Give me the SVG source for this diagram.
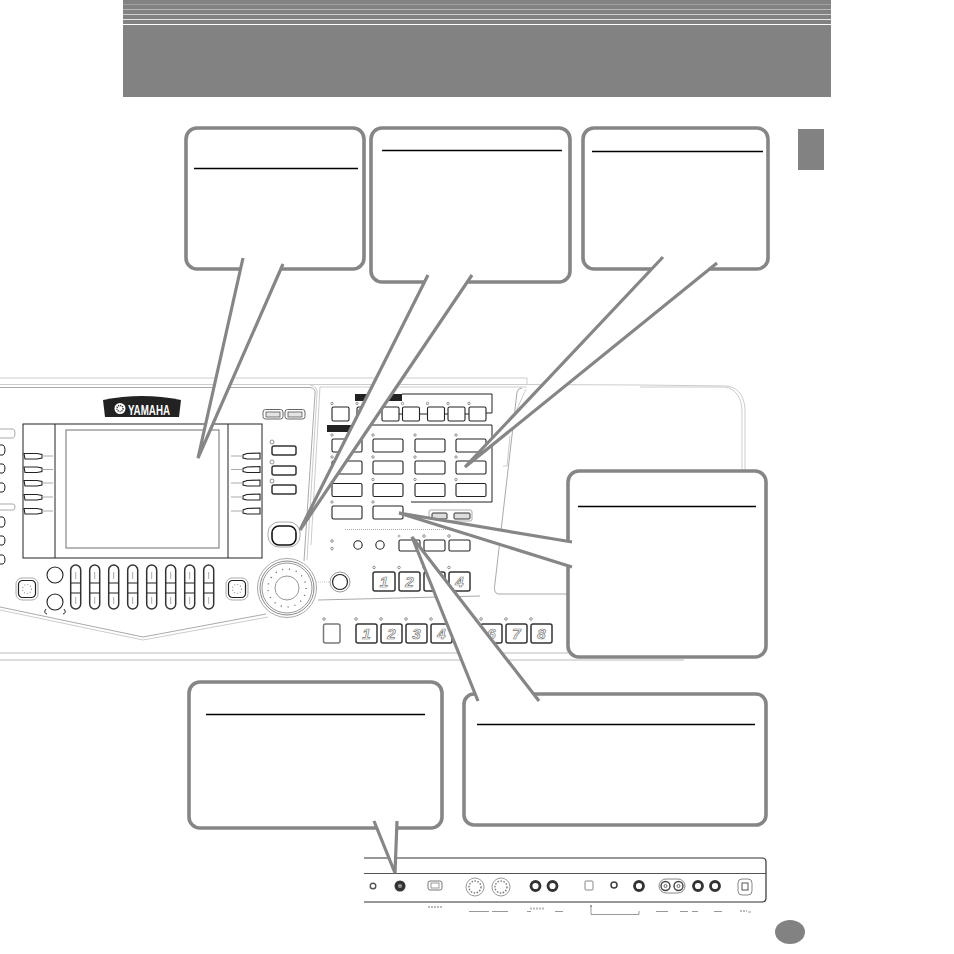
<svg xmlns="http://www.w3.org/2000/svg" xmlns:xlink="http://www.w3.org/1999/xlink" width="954" height="954" viewBox="0 0 954 954">
<style>
.bx{fill:#fff;stroke:#868686;stroke-width:3.600}
.w{fill:#fff;stroke:none}
.wl{fill:none;stroke:#868686;stroke-width:3.200;stroke-linejoin:miter}
.rule{stroke:#000;stroke-width:1.400}
.k{fill:#fff;stroke:#222;stroke-width:1.100}
.kd{fill:#fff;stroke:#333;stroke-width:1.500}
.n{fill:none;stroke:#222;stroke-width:1}
.g{fill:none;stroke:#aaa;stroke-width:1}
.lg{fill:none;stroke:#ccc;stroke-width:1}
.band{fill:none;stroke:#ddd;stroke-width:2}
.led{fill:#fff;stroke:#777;stroke-width:.8}
.num{font-family:"Liberation Sans",Arial,sans-serif;font-style:italic;font-weight:bold;font-size:15px;fill:#fff;stroke:#777;stroke-width:.7;text-anchor:middle}
.jack{fill:#fff;stroke:#333;stroke-width:2.800}
.tick{fill:none;stroke:#999;stroke-width:1}
</style>
<defs>
<g id="sl"><rect x="-5" y="565" width="10" height="44" rx="5" class="kd"/><path class="n" d="M-5 583H5M-5 593H5"/><path class="g" d="M0 572V579M0 597V604"/></g>
<g id="bl"><path class="k" d="M0 -2.500H13L18 -1.500V2L13 3H1Z"/><path class="g" d="M18 0H29"/></g>
<g id="br"><path class="k" d="M29 -3L16 -2.500L12 -1V2L16 3H29Z"/><path class="g" d="M0 0H12"/></g>
<g id="wide"><circle cx="0" cy="-4" r="1.200" class="led"/><rect x="0" y="0" width="30" height="13" rx="1.500" class="k"/></g>
<g id="sm"><circle cx="0" cy="-3.500" r="1.200" class="led"/><rect x="0" y="0" width="17" height="14" rx="1.500" class="k"/></g>
<g id="pad"><rect x="-11" y="-11" width="22" height="22" rx="6" fill="#fff" stroke="#aaa"/><rect x="-8.500" y="-8.500" width="17" height="17" rx="4" fill="#fff" stroke="#222" stroke-width="1.200"/><circle r="4.500" fill="none" stroke="#999" stroke-width="1.200" stroke-dasharray="1 2"/></g>
</defs>

<g id="header">
<rect x="123" y="0" width="708" height="97" fill="#828282"/>
<path d="M123 4.500H831" stroke="#a0a0a0" stroke-width="1"/>
<path d="M123 9.500H831" stroke="#b5b5b5" stroke-width="1"/>
<path d="M123 14.500H831" stroke="#cdcdcd" stroke-width="1"/>
<path d="M123 19.500H831" stroke="#e4e4e4" stroke-width="1"/>
<path d="M123 24.500H831" stroke="#fff" stroke-width="1.200"/>
</g>
<rect id="tab" x="798" y="129" width="26" height="41" fill="#828282"/>
<ellipse id="page-dot" cx="790" cy="932" rx="15" ry="12" fill="#828282"/>

<g id="panel">
<path class="lg" d="M0 378H527V384M0 384.500H527L640 385L727 386C740 388 745 398 745 412V470" stroke-width="1.400"/>
<path class="lg" d="M640 387H725C736 389 742 398 742 412V470"/>
<path class="g" d="M0 387.500H310Q316 388 315 394L304 561"/>
<path class="lg" d="M310 385Q318 386 317 394L307 560"/>
<path class="lg" d="M320 387L311 545M320 387H527"/>
<path class="g" d="M522 388Q518 388 517 392L495 583Q493 593 498 594H568"/>
<path class="lg" d="M526 389L505 436M503 466H507L510 436"/>
<path class="g" d="M318 600L480 596"/>
<path class="g" d="M0 607L143 637L266 614"/>
<path class="lg" d="M0 610L143 640L268 617"/>
<path class="band" d="M0 653H568"/>
<path class="band" d="M0 660H684"/>

<g id="logo">
<path d="M103 400Q142 392 181 400L179 417H105Z" fill="#222"/>
<circle cx="120" cy="408.500" r="5.500" fill="#fff"/><circle cx="120" cy="408.500" r="3" fill="none" stroke="#222" stroke-width="1.500" stroke-dasharray="1 1"/>
<text x="128" y="414.500" font-family="Liberation Sans,Arial,sans-serif" font-weight="bold" font-size="15" fill="#fff" textLength="42" lengthAdjust="spacingAndGlyphs">YAMAHA</text>
</g>

<rect x="23" y="424" width="239" height="134" fill="#fff" stroke="#222" stroke-width="1"/>
<path class="n" d="M55 424V558M228 424V558"/>
<rect x="66" y="430" width="153" height="118" fill="#fff" stroke="#888" stroke-width="1.200"/>
<use xlink:href="#bl" x="24" y="456"/><use xlink:href="#bl" x="24" y="469.500"/><use xlink:href="#bl" x="24" y="483"/><use xlink:href="#bl" x="24" y="497"/><use xlink:href="#bl" x="24" y="511"/>
<use xlink:href="#br" x="231" y="456"/><use xlink:href="#br" x="231" y="469.500"/><use xlink:href="#br" x="231" y="483"/><use xlink:href="#br" x="231" y="497"/><use xlink:href="#br" x="231" y="511"/>

<path class="g" d="M0 429H13Q15 429 15 433Q15 438 13 438H0M0 504H13Q15 504 15 507Q15 510 13 510H0"/>
<path class="n" d="M0 445H3Q5 446 5 450Q5 454 3 455H0M0 464H3Q5 465 5 468Q5 472 3 473H0M0 483H3Q5 484 5 487Q5 491 3 492H0M0 517H3Q5 518 5 522Q5 526 3 527H0M0 536H3Q5 537 5 540Q5 544 3 545H0M0 555H3Q5 556 5 560Q5 563 3 564H0"/>

<use xlink:href="#sl" x="75.700"/><use xlink:href="#sl" x="94.700"/><use xlink:href="#sl" x="113.700"/><use xlink:href="#sl" x="132.700"/><use xlink:href="#sl" x="151.700"/><use xlink:href="#sl" x="170.700"/><use xlink:href="#sl" x="189.700"/><use xlink:href="#sl" x="208.700"/>
<circle cx="55" cy="575" r="8" class="k"/><circle cx="55" cy="602" r="8" class="k"/>
<path class="n" d="M46 609Q43 613 47 614M64 609Q67 613 63 614"/>
<use xlink:href="#pad" x="27" y="589"/><use xlink:href="#pad" x="237" y="589"/>

<rect x="263" y="409.500" width="20" height="9.500" rx="2.500" fill="#fff" stroke="#666"/><rect x="285" y="409.500" width="20" height="9.500" rx="2.500" fill="#fff" stroke="#666"/>
<rect x="266" y="412" width="14" height="5" fill="#e4e4e4" stroke="#555" stroke-width=".8"/><rect x="288" y="412" width="14" height="5" fill="#e4e4e4" stroke="#555" stroke-width=".8"/>
<rect x="272" y="446" width="24" height="9" rx="2" class="kd"/><rect x="272" y="466" width="24" height="9" rx="2" class="kd"/><rect x="272" y="485" width="24" height="9" rx="2" class="kd"/>
<circle cx="272" cy="442" r="2" class="led"/><circle cx="272" cy="462" r="2" class="led"/><circle cx="272" cy="481" r="2" class="led"/>
<rect x="268" y="522" width="32" height="25" rx="11" fill="#fff" stroke="#aaa"/>
<rect x="272" y="526" width="24" height="19" rx="7" fill="#fff" stroke="#111" stroke-width="1.600"/>

<g id="wheel">
<circle cx="287" cy="588" r="29.500" fill="#fff" stroke="#aaa"/><circle cx="287" cy="588" r="27" fill="none" stroke="#888" stroke-width="1"/><circle cx="287" cy="588" r="25" fill="none" stroke="#999" stroke-width="1"/>
<circle cx="287" cy="588" r="19" fill="none" stroke="#666" stroke-width="1.400" stroke-dasharray="1 6"/>
<circle cx="287" cy="588" r="12" fill="none" stroke="#999"/>
</g>
<circle cx="340" cy="582" r="10" fill="#fff" stroke="#999"/><circle cx="340" cy="582" r="7.500" fill="#fff" stroke="#222" stroke-width="1.200"/>
<path class="lg" d="M316 582H330" stroke-dasharray="1 1"/>

<path d="M355 394H402V401H355Z" fill="#222"/>
<path class="n" d="M402 394H492V413H486"/>
<use xlink:href="#sm" x="332" y="407"/><use xlink:href="#sm" x="357" y="407"/><use xlink:href="#sm" x="382" y="407"/><use xlink:href="#sm" x="402.500" y="407"/><use xlink:href="#sm" x="427.500" y="407"/><use xlink:href="#sm" x="448" y="407"/><use xlink:href="#sm" x="469" y="407"/>
<path class="n" d="M399 414H402.500M419.500 414H427.500M444.500 414H448M465 414H469"/>
<path d="M327 425H352V432H327Z" fill="#222"/>
<path class="n" d="M352 425H492V502H411"/>
<use xlink:href="#wide" x="332" y="439"/><use xlink:href="#wide" x="373" y="439"/><use xlink:href="#wide" x="415" y="439"/><use xlink:href="#wide" x="456" y="439"/>
<use xlink:href="#wide" x="332" y="461"/><use xlink:href="#wide" x="373" y="461"/><use xlink:href="#wide" x="415" y="461"/><use xlink:href="#wide" x="456" y="461"/>
<use xlink:href="#wide" x="332" y="483.500"/><use xlink:href="#wide" x="373" y="483.500"/><use xlink:href="#wide" x="415" y="483.500"/><use xlink:href="#wide" x="456" y="483.500"/>
<use xlink:href="#wide" x="332" y="506"/><use xlink:href="#wide" x="373" y="506"/>
<rect x="429" y="510" width="43" height="11" rx="2" fill="#fff" stroke="#aaa"/>
<rect x="432" y="513" width="15" height="6" rx="1" fill="#ddd" stroke="#333"/><rect x="454" y="513" width="16" height="6" rx="1" fill="#ddd" stroke="#333"/>
<path d="M345 529.500H475" stroke="#aaa" stroke-dasharray="1 1"/>
<circle cx="332" cy="541" r="1.300" class="led"/><circle cx="332" cy="548.500" r="1.300" class="led"/>
<circle cx="358" cy="545" r="4.200" class="k"/><circle cx="380" cy="545" r="4.200" class="k"/>
<rect x="399" y="540" width="21" height="11" rx="1.500" class="k"/><rect x="424" y="540" width="21" height="11" rx="1.500" class="k"/><rect x="449" y="540" width="21" height="11" rx="1.500" class="k"/>
<circle cx="399" cy="536" r="1.500" fill="#bbb"/><circle cx="424" cy="536" r="1.300" class="led"/><circle cx="449" cy="536" r="1.300" class="led"/>

<g id="num-a" opacity=".99">
<rect x="373" y="572" width="22" height="19" rx="2" class="kd"/><rect x="399" y="572" width="21" height="19" rx="2" class="kd"/><rect x="424" y="572" width="21" height="19" rx="2" class="kd"/><rect x="449" y="572" width="21" height="19" rx="2" class="kd"/>
<circle cx="374" cy="567.500" r="1.300" class="led"/><circle cx="399" cy="567.500" r="1.300" class="led"/><circle cx="424" cy="567.500" r="1.300" class="led"/><circle cx="449" cy="567.500" r="1.300" class="led"/>
<text class="num" x="384" y="587">1</text><text class="num" x="409.500" y="587">2</text><text class="num" x="459.500" y="587">4</text>
</g>
<g id="num-b" opacity=".99">
<circle cx="324" cy="619" r="1.300" class="led"/>
<rect x="323.500" y="624" width="16.500" height="19" rx="2" fill="#fff" stroke="#777" stroke-width="1.500"/>
<rect x="356" y="624" width="21" height="19" rx="2" class="kd"/><rect x="381" y="624" width="21" height="19" rx="2" class="kd"/><rect x="406" y="624" width="21" height="19" rx="2" class="kd"/><rect x="431" y="624" width="21" height="19" rx="2" class="kd"/><rect x="456" y="624" width="21" height="19" rx="2" class="kd"/><rect x="481" y="624" width="21" height="19" rx="2" class="kd"/><rect x="506" y="624" width="21" height="19" rx="2" class="kd"/><rect x="531" y="624" width="21" height="19" rx="2" class="kd"/>
<circle cx="356" cy="619" r="1.300" class="led"/><circle cx="381" cy="619" r="1.300" class="led"/><circle cx="406" cy="619" r="1.300" class="led"/><circle cx="431" cy="619" r="1.300" class="led"/><circle cx="481" cy="619" r="1.300" class="led"/><circle cx="506" cy="619" r="1.300" class="led"/><circle cx="531" cy="619" r="1.300" class="led"/>
<text class="num" x="366.500" y="639">1</text><text class="num" x="391.500" y="639">2</text><text class="num" x="416.500" y="639">3</text><text class="num" x="441.500" y="639">4</text><text class="num" x="491.500" y="639">6</text><text class="num" x="516.500" y="639">7</text><text class="num" x="541.500" y="639">8</text>
</g>
</g>

<g id="rear-panel">
<path d="M364 858H762Q766 858 766 862V898Q766 902 762 902H364" fill="none" stroke="#333" stroke-width="1.200"/>
<path d="M364 873.500H766" stroke="#555" stroke-width="1"/>
<circle cx="373" cy="886" r="2.800" fill="#fff" stroke="#555" stroke-width="1.400"/>
<circle cx="400" cy="886" r="5.500" fill="#333"/><circle cx="400" cy="886" r="2" fill="#999"/>
<rect x="428" y="881" width="14" height="9" rx="2" fill="#fff" stroke="#777"/><rect x="431" y="883" width="8" height="5" fill="#fff" stroke="#999"/>
<circle cx="475" cy="887" r="9" fill="#fff" stroke="#999"/><circle cx="475" cy="887" r="6" fill="#fff" stroke="#777" stroke-dasharray="1.500 1.500" stroke-width="1.400"/>
<circle cx="501" cy="887" r="9" fill="#fff" stroke="#999"/><circle cx="501" cy="887" r="6" fill="#fff" stroke="#777" stroke-dasharray="1.500 1.500" stroke-width="1.400"/>
<circle cx="535.500" cy="886" r="4.500" class="jack"/><circle cx="552.500" cy="886" r="4.500" class="jack"/>
<rect x="585" y="881" width="8" height="9" rx="1" fill="#fff" stroke="#888"/>
<circle cx="614" cy="885" r="3" fill="#fff" stroke="#444" stroke-width="1.600"/>
<circle cx="639" cy="886" r="4.500" class="jack"/>
<rect x="659" y="879" width="26" height="14" rx="7" fill="#fff" stroke="#888"/>
<circle cx="665.500" cy="886" r="4.500" fill="#fff" stroke="#444" stroke-width="1.400"/><circle cx="678.500" cy="886" r="4.500" fill="#fff" stroke="#444" stroke-width="1.400"/>
<circle cx="665.500" cy="886" r="1.500" fill="none" stroke="#666"/><circle cx="678.500" cy="886" r="1.500" fill="none" stroke="#666"/>
<circle cx="698" cy="886" r="4.500" class="jack"/><circle cx="715" cy="886" r="4.500" class="jack"/>
<rect x="738" y="879" width="14" height="16" rx="4" fill="#fff" stroke="#888"/><rect x="742" y="883" width="6" height="7" fill="#fff" stroke="#555"/>
<path class="tick" d="M469 911.500H489M492 911.500H508M527 911.500H531M555 911.500H563M591 906V914.500H639V911M656 911.500H668M680 911.500H688M692 911.500H698M714 911.500H722M748 912H751"/>
<path fill="none" stroke="#bbb" stroke-width="2" stroke-dasharray="2 1" d="M428 907H442M530 908.500H544M740 911H747"/>
<path fill="none" stroke="#555" d="M590 906H592"/>
</g>

<g id="callout-1">
<rect class="bx" x="186" y="128" width="178" height="141" rx="11"/>
<polygon class="w" points="243,258 198,458 283,264"/>
<polyline class="wl" points="243,258 198,458 283,264"/>
<path class="rule" d="M194 168.500H358"/>
</g>
<g id="callout-2">
<rect class="bx" x="371" y="128" width="199" height="154" rx="11"/>
<polygon class="w" points="428,275 300,530 472,275"/>
<polyline class="wl" points="428,275 300,530 472,275"/>
<path class="rule" d="M382 150.500H562"/>
</g>
<g id="callout-3">
<rect class="bx" x="583" y="128" width="185" height="141" rx="11"/>
<polygon class="w" points="663,257 465,467 717,263"/>
<polyline class="wl" points="663,257 465,467 717,263"/>
<path class="rule" d="M592 151.500H763"/>
</g>
<g id="callout-4">
<rect class="bx" x="568" y="471" width="198" height="186" rx="11"/>
<polygon class="w" points="572,542 399,513 572,567"/>
<polyline class="wl" points="572,542 399,513 572,567"/>
<path class="rule" d="M578 506.500H756"/>
</g>
<g id="callout-5">
<rect class="bx" x="189" y="682" width="253" height="146" rx="11"/>
<polygon class="w" points="374,821 395,873 397,821"/>
<polyline class="wl" points="374,821 395,873 397,821"/>
<path class="rule" d="M206 714.500H425"/>
</g>
<g id="callout-6">
<rect class="bx" x="464" y="694" width="302" height="131" rx="10"/>
<polygon class="w" points="478,701 412,537 539,701"/>
<polyline class="wl" points="478,701 412,537 539,701"/>
<path class="rule" d="M477 724.500H755"/>
</g>
</svg>
